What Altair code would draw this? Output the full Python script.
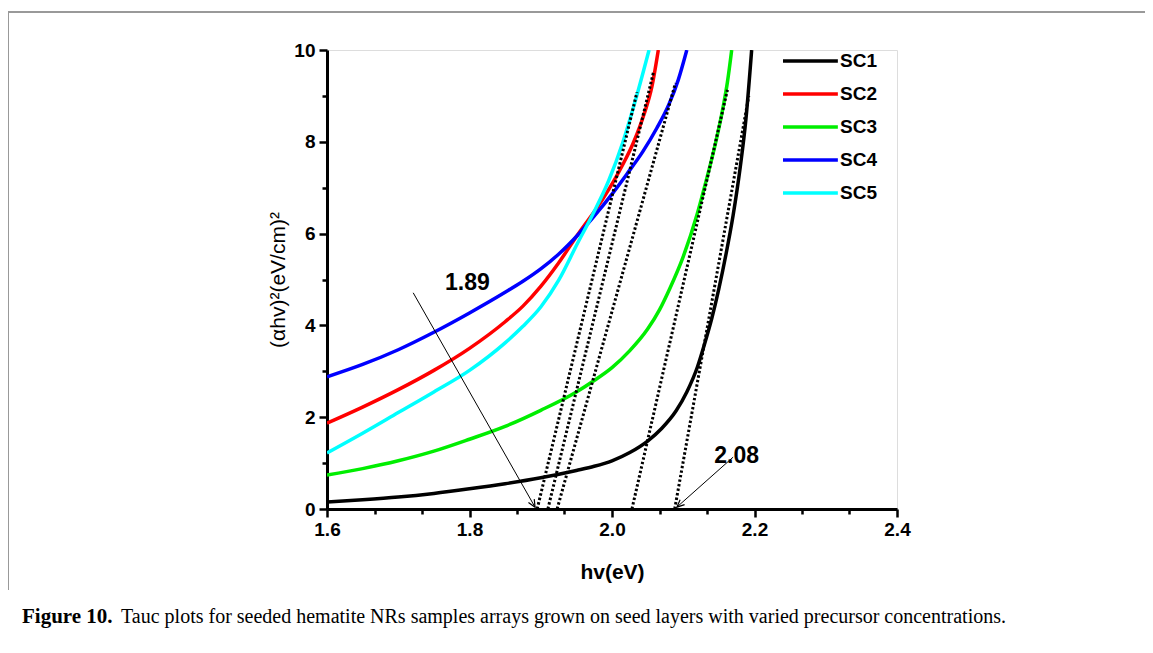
import altair as alt
import pandas as pd

# ---------------- data ----------------
names = ["SC1", "SC2", "SC3", "SC4", "SC5"]
colors = ["#000000", "#ff0000", "#00ee00", "#0000ff", "#00ffff"]

sc1_x = [1.60, 1.65, 1.70, 1.75, 1.80, 1.85, 1.90, 1.95, 1.975, 2.00, 2.025, 2.05, 2.07, 2.09,
         2.105, 2.12, 2.13, 2.14, 2.15, 2.16, 2.17, 2.18, 2.188, 2.196]
sc1_y = [0.15, 0.20, 0.26, 0.34, 0.44, 0.55, 0.68, 0.84, 0.93, 1.05, 1.23, 1.48, 1.76, 2.14,
         2.55, 3.10, 3.60, 4.15, 4.80, 5.55, 6.40, 7.45, 8.50, 10.0]

sc2_x = [1.60, 1.65, 1.70, 1.75, 1.80, 1.85, 1.875, 1.90, 1.925, 1.952, 1.987, 2.015, 2.03, 2.045,
         2.056, 2.065]
sc2_y = [1.87, 2.22, 2.60, 3.02, 3.50, 4.08, 4.42, 4.85, 5.36, 5.98, 6.75, 7.50, 7.98, 8.60,
         9.20, 10.0]

sc3_x = [1.60, 1.65, 1.70, 1.75, 1.80, 1.85, 1.90, 1.95, 1.975, 2.00, 2.025, 2.05, 2.067,
         2.081, 2.10, 2.12, 2.133, 2.145, 2.156, 2.162, 2.168]
sc3_y = [0.74, 0.88, 1.05, 1.26, 1.52, 1.80, 2.15, 2.55, 2.80, 3.08, 3.45, 3.92, 4.35,
         4.80, 5.50, 6.45, 7.20, 7.95, 8.76, 9.30, 10.0]

sc4_x = [1.60, 1.65, 1.70, 1.75, 1.80, 1.85, 1.875, 1.90, 1.925, 1.952, 1.975, 2.00, 2.021, 2.043,
         2.063, 2.08, 2.093, 2.105]
sc4_y = [2.88, 3.15, 3.47, 3.85, 4.27, 4.72, 4.96, 5.23, 5.55, 5.97, 6.38, 6.86, 7.30, 7.78,
         8.30, 8.82, 9.35, 10.0]

sc5_x = [1.60, 1.65, 1.70, 1.75, 1.80, 1.85, 1.875, 1.90, 1.925, 1.952, 1.975, 1.995, 2.015,
         2.035, 2.052]
sc5_y = [1.22, 1.65, 2.10, 2.55, 3.02, 3.62, 3.98, 4.40, 4.98, 5.80, 6.48, 7.14, 7.98,
         9.02, 10.0]

# dotted tangent (extrapolation) lines: start at x-intercept, end near the top
tan_x0 = [1.895, 1.910, 1.923, 2.028, 2.088]
tan_x1 = [2.035, 2.058, 2.089, 2.162, 2.192]
tan_y1 = [9.08, 9.50, 9.28, 9.13, 9.00]

# annotations
ann_text = ["1.89", "2.08"]
ann_tx = [1.797, 2.175]
ann_ty = [4.92, 1.15]
arr_x0 = [1.721, 2.170]
arr_y0 = [4.71, 1.13]
arr_x1 = [1.892, 2.091]
arr_y1 = [0.04, 0.04]
arr_angle = [150, 228]

caption_bold = "Figure 10."
caption_rest = "Tauc plots for seeded hematite NRs samples arrays grown on seed layers with varied precursor concentrations."

# ---------------- tables ----------------
series = [(names[0], sc1_x, sc1_y), (names[1], sc2_x, sc2_y), (names[2], sc3_x, sc3_y),
          (names[3], sc4_x, sc4_y), (names[4], sc5_x, sc5_y)]
rows = []
for n, xs_, ys_ in series:
    for i, (a, b) in enumerate(zip(xs_, ys_)):
        rows.append({"series": n, "x": a, "y": b, "i": i})
df = pd.DataFrame(rows)

tan_rows = []
for k in range(len(tan_x0)):
    tan_rows.append({"id": k, "x": tan_x0[k], "y": 0.0})
    tan_rows.append({"id": k, "x": tan_x1[k], "y": tan_y1[k]})
tan_df = pd.DataFrame(tan_rows)

arr_rows = []
for k in range(len(arr_x0)):
    arr_rows.append({"id": k, "x": arr_x0[k], "y": arr_y0[k]})
    arr_rows.append({"id": k, "x": arr_x1[k], "y": arr_y1[k]})
arr_df = pd.DataFrame(arr_rows)
head_df = pd.DataFrame({"x": arr_x1, "y": arr_y1, "ang": arr_angle})
ann_df = pd.DataFrame({"t": ann_text, "x": ann_tx, "y": ann_ty})

# legend rows (placed in data coordinates, top right of the plot)
leg_df = pd.DataFrame({
    "series": names,
    "y": [9.76 - 0.719 * k for k in range(len(names))],
    "x1": [2.240] * len(names),
    "x2": [2.317] * len(names),
    "xt": [2.320] * len(names),
})

# ---------------- scales & axes ----------------
FONT = "Liberation Sans"
x_ticks = [round(1.6 + k * 0.2 / 3, 5) for k in range(13)]
y_ticks = list(range(11))
is_xmaj = "abs(datum.value*5 - round(datum.value*5)) < 0.01"
is_ymaj = "datum.value % 2 == 0"

xs = alt.Scale(domain=[1.6, 2.4], nice=False, zero=False)
ys = alt.Scale(domain=[0, 10], nice=False)
cs = alt.Scale(domain=names, range=colors)

x_axis = alt.Axis(
    values=x_ticks, title="hv(eV)", grid=False,
    labelExpr=f"({is_xmaj}) ? format(datum.value, '.1f') : ''",
    tickSize={"condition": {"test": is_xmaj, "value": 8}, "value": 5},
    tickWidth=2.5, tickColor="black", domainColor="black", domainWidth=3,
    labelFont=FONT, labelFontSize=19, labelFontWeight="bold", labelColor="black", labelPadding=3,
    labelFlush=False, labelOverlap=False,
    titleFont=FONT, titleFontSize=21, titleFontWeight="bold", titleColor="black", titlePadding=22,
)
y_axis = alt.Axis(
    values=y_ticks, title="(αhv)²(eV/cm)²", grid=False,
    labelExpr=f"({is_ymaj}) ? datum.label : ''",
    tickSize={"condition": {"test": is_ymaj, "value": 8}, "value": 5},
    tickWidth=2.5, tickColor="black", domainColor="black", domainWidth=3,
    labelFont=FONT, labelFontSize=19, labelFontWeight="bold", labelColor="black", labelPadding=4,
    labelFlush=False, labelOverlap=False,
    titleFont=FONT, titleFontSize=21, titleFontWeight="normal", titleColor="black", titlePadding=5,
)

# ---------------- layers ----------------
curves = alt.Chart(df).mark_line(strokeWidth=3.5, interpolate="monotone", clip=True).encode(
    x=alt.X("x:Q", scale=xs, axis=x_axis),
    y=alt.Y("y:Q", scale=ys, axis=y_axis),
    color=alt.Color("series:N", scale=cs, legend=None),
    order="i:Q",
)

tangents = alt.Chart(tan_df).mark_line(color="black", strokeWidth=3, strokeDash=[2.4, 2.2]).encode(
    x="x:Q", y="y:Q", detail="id:N"
)

arrows = alt.Chart(arr_df).mark_line(color="black", strokeWidth=1).encode(
    x="x:Q", y="y:Q", detail="id:N"
)
heads = alt.Chart(head_df).mark_point(
    shape="M-0.45,1 L0,0 L0.45,1", filled=False, stroke="black", strokeWidth=1.2, size=220, opacity=1
).encode(x="x:Q", y="y:Q", angle=alt.Angle("ang:Q", scale=None))

ann = alt.Chart(ann_df).mark_text(font=FONT, fontSize=23, fontWeight="bold", color="black").encode(
    x="x:Q", y="y:Q", text="t:N"
)

leg_lines = alt.Chart(leg_df).mark_rule(strokeWidth=3.5).encode(
    x="x1:Q", x2="x2:Q", y="y:Q", color=alt.Color("series:N", scale=cs, legend=None)
)
leg_text = alt.Chart(leg_df).mark_text(
    font=FONT, fontSize=19, fontWeight="bold", color="black", align="left", baseline="middle"
).encode(x="xt:Q", y="y:Q", text="series:N")

base = alt.Chart(pd.DataFrame({"a": [0]}))
cap1 = base.mark_text(font="Liberation Serif", fontSize=21, fontWeight="bold", color="black",
                      align="left", baseline="middle").encode(
    x=alt.value(-305), y=alt.value(567), text=alt.value(caption_bold))
cap2 = base.mark_text(font="Liberation Serif", fontSize=20, color="black",
                      align="left", baseline="middle").encode(
    x=alt.value(-206), y=alt.value(567), text=alt.value(caption_rest))

frame_top = base.mark_rule(color="#999999", strokeWidth=2).encode(
    x=alt.value(-319), x2=alt.value(820), y=alt.value(-38))
frame_left = base.mark_rule(color="#999999", strokeWidth=2).encode(
    x=alt.value(-319), y=alt.value(-38), y2=alt.value(540))
frame_right = base.mark_rule(color="#999999", strokeWidth=2).encode(
    x=alt.value(820), y=alt.value(-38), y2=alt.value(540))

chart = alt.layer(
    curves, tangents, arrows, heads, ann, leg_lines, leg_text, cap1, cap2,
    frame_top, frame_left, frame_right
).properties(
    width=570, height=459,
    autosize=alt.AutoSizeParams(type="none"),
    padding={"left": 319, "top": 42, "right": 248, "bottom": 136},
).configure_view(stroke="black", strokeWidth=3).configure(background="white")

chart.save("out.html", embed_options={"renderer": "svg", "actions": False})
